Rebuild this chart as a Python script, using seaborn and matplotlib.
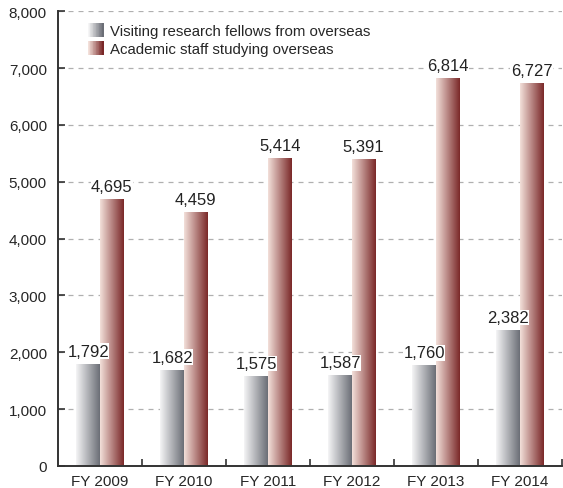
import matplotlib
matplotlib.use('Agg')
import matplotlib.pyplot as plt
import pandas as pd
import seaborn as sns
import numpy as np
from matplotlib.colors import LinearSegmentedColormap
from matplotlib.legend_handler import HandlerBase
from matplotlib.patches import Rectangle

# dados
years = ['FY 2009', 'FY 2010', 'FY 2011', 'FY 2012', 'FY 2013', 'FY 2014']
visiting = [1792, 1682, 1575, 1587, 1760, 2382]
academic = [4695, 4459, 5414, 5391, 6814, 6727]
series = ['Visiting research fellows from overseas', 'Academic staff studying overseas']

# cores do degradê (claro -> escuro)
grad_colors = {
    series[0]: ('#f5f5f6', '#6b6e76'),
    series[1]: ('#f3e0da', '#7a2828'),
}
cmaps = {k: LinearSegmentedColormap.from_list(k, v) for k, v in grad_colors.items()}

df = pd.DataFrame({
    'year': years * 2,
    'value': visiting + academic,
    'series': [series[0]] * len(years) + [series[1]] * len(years),
})

sns.set_style('white')
plt.rcParams['font.family'] = ['Liberation Sans', 'DejaVu Sans']

fig = plt.figure(figsize=(5.63, 4.89), dpi=100)
ax = fig.add_axes([0.103, 0.045, 0.895, 0.930])

sns.barplot(data=df, x='year', y='value', hue='series', hue_order=series,
            palette=[grad_colors[s][1] for s in series], width=0.56,
            ax=ax, legend=False)

# troca cada barra por um degradê horizontal
n = len(years)
for i, patch in enumerate(ax.patches[:2 * n]):
    s = series[i // n]
    x0, y0 = patch.get_x(), patch.get_y()
    w, h = patch.get_width(), patch.get_height()
    patch.set_visible(False)
    ax.imshow(np.linspace(0, 1, 256).reshape(1, -1), cmap=cmaps[s],
              extent=(x0, x0 + w, y0, y0 + h), aspect='auto', zorder=2,
              interpolation='bilinear')
    ax.annotate(f'{int(h):,}', (x0 + w / 2, h), xytext=(0, 4),
                textcoords='offset points', ha='center', va='bottom',
                fontsize=12, color='#222222', zorder=4,
                bbox=dict(facecolor='white', edgecolor='none', pad=0.3))

ax.set_xlim(-0.5, n - 0.5)
ax.set_ylim(0, 8000)
ax.set_yticks(range(0, 8001, 1000))
ax.set_yticklabels([f'{v:,}' for v in range(0, 8001, 1000)])
ax.set_xticks(np.arange(n) + 0.5, minor=True)
ax.set_xlabel('')
ax.set_ylabel('')

ax.yaxis.grid(True, linestyle=(0, (4, 4)), color='#b0b0b0', linewidth=0.9)
ax.set_axisbelow(True)
for side in ['top', 'right']:
    ax.spines[side].set_visible(False)
for side in ['left', 'bottom']:
    ax.spines[side].set_color('#333333')
    ax.spines[side].set_linewidth(1.4)

ax.tick_params(axis='y', direction='in', length=5, width=1.2, color='#333333',
               labelsize=11, pad=8, left=True)
ax.tick_params(axis='x', which='major', length=0, labelsize=11, pad=6)
ax.tick_params(axis='x', which='minor', direction='in', length=5, width=1.2,
               color='#333333', bottom=True)


# legenda com quadrados em degradê
class GradientHandler(HandlerBase):
    def create_artists(self, legend, orig_handle, xdescent, ydescent,
                       width, height, fontsize, trans):
        cmap = cmaps[orig_handle.get_label()]
        k = 20
        arts = []
        for j in range(k):
            arts.append(Rectangle((-xdescent + width * j / k, -ydescent),
                                  width / k + 0.3, height,
                                  facecolor=cmap(j / (k - 1)), edgecolor='none',
                                  transform=trans))
        return arts


handles = [Rectangle((0, 0), 1, 1, label=s) for s in series]
ax.legend(handles=handles, labels=series, loc='upper left',
          bbox_to_anchor=(0.06, 0.975), frameon=False, fontsize=10.8,
          handler_map={Rectangle: GradientHandler()},
          handlelength=1.0, handleheight=1.05, handletextpad=0.45,
          labelspacing=0.2, borderpad=0, borderaxespad=0)

fig.savefig('out.png', dpi=100)
